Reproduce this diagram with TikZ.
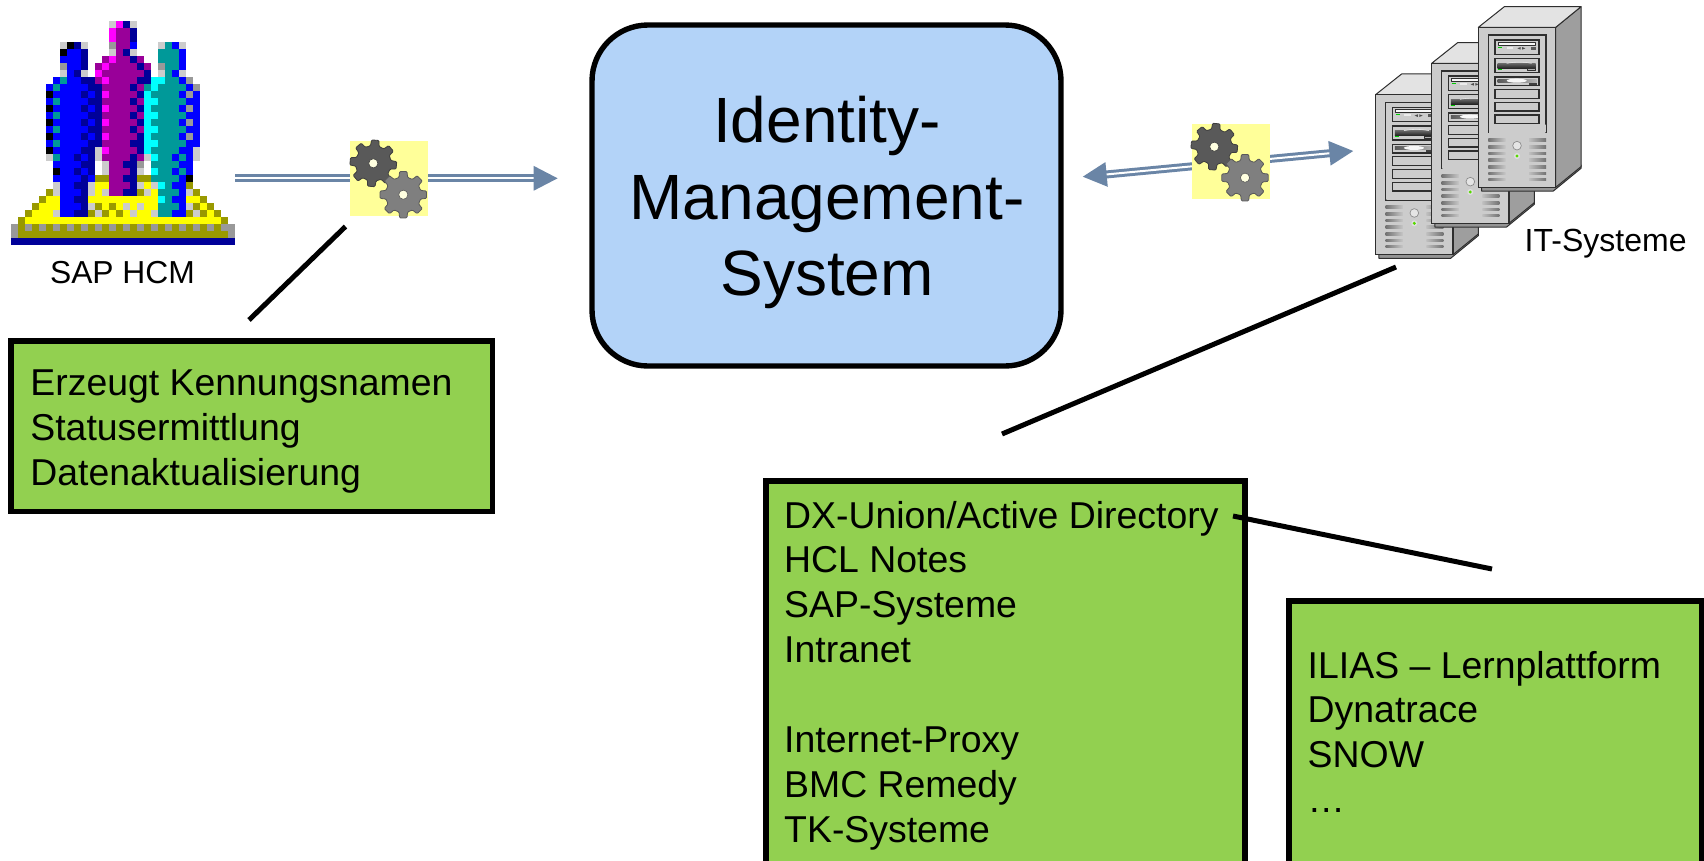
\documentclass[tikz,border=0pt]{standalone}
\usepackage{fontspec}
\setmainfont{Liberation Sans}
\usetikzlibrary{arrows.meta}
\definecolor{pxB}{HTML}{0000FF}\definecolor{pxN}{HTML}{000099}\definecolor{pxP}{HTML}{990099}
\definecolor{pxM}{HTML}{FF00FF}\definecolor{pxT}{HTML}{009999}\definecolor{pxC}{HTML}{00FFFF}
\definecolor{pxY}{HTML}{FFFF00}\definecolor{pxO}{HTML}{999900}\definecolor{pxG}{HTML}{999999}
\definecolor{pxL}{HTML}{CCCCCC}\definecolor{pxK}{HTML}{000000}\definecolor{pxW}{HTML}{FFFFFF}
\definecolor{arrowblue}{HTML}{6A85A6}
\definecolor{boxgreen}{HTML}{92D050}
\definecolor{mainblue}{HTML}{B3D3F8}
\definecolor{gearback}{HTML}{FFFF99}
\definecolor{gearhole}{HTML}{FFFFE0}
\definecolor{geardark}{HTML}{595959}
\definecolor{gearlight}{HTML}{7F7F7F}
\definecolor{srvline}{HTML}{2E2E2E}
\tikzset{
  greenbox/.style={draw=black,fill=boxgreen,line width=5.4pt,rectangle,inner sep=0pt,outer sep=0pt,anchor=north west},
  mainbox/.style={draw=black,fill=mainblue,line width=5.4pt,rectangle,rounded corners=56pt,inner sep=0pt,outer sep=0pt,anchor=north west},
  boxtext/.style={anchor=base west,inner sep=0pt,font=\fontsize{37.4}{44.9}\selectfont},
  smalllabel/.style={anchor=base,inner sep=0pt,font=\fontsize{31.8}{36}\selectfont},
  itstyle/.style={anchor=base west,inner sep=0pt,font=\fontsize{32}{36}\selectfont},
  lead/.style={draw=black,line width=5pt},
  flow/.style={draw=arrowblue,line width=3pt,double=white,double distance=2pt},
  gearsquare/.style={fill=gearback,draw=none,rectangle,inner sep=0pt,outer sep=0pt,minimum width=78pt,minimum height=75pt},
  srv/.style={draw=srvline,line width=1pt,line join=round},
  srvthick/.style={draw=srvline,line width=1.2pt},
}
% pixel icon
\newcount\pxc
\newcount\pxr
\def\pxscan#1{\ifx#1;\let\pxnext\relax\else
  \ifx#1.\else\fill[px#1] (\the\numexpr11+7*\pxc\relax,\the\numexpr21+7*\pxr\relax) rectangle (\the\numexpr18+7*\pxc\relax,\the\numexpr28+7*\pxr\relax);\fi
  \advance\pxc by 1 \let\pxnext\pxscan\fi\pxnext}
\newcommand\pxline[1]{\pxc=0 \pxscan#1;\advance\pxr by 1 }
% gear
\newcommand\gearshape[4]{% cx cy rot colour
  \begin{scope}[shift={(#1,#2)}]
    \draw[fill=#4,draw=#4!70!black,line width=0.8pt,rounded corners=1pt]
      (#3-9:23.5)
      \foreach \k in {0,...,7}{
        -- (#3+45*\k+9:23.5) -- (#3+45*\k+14:17.8) -- (#3+45*\k+31:17.8) -- (#3+45*\k+36:23.5)
      } -- cycle;
    \draw[fill=gearhole,draw=#4!70!black,line width=0.6pt] (0,0) circle (4.6);
  \end{scope}}
% one server tower, coordinates in thirds of a pixel
\newcommand\serverunit[2]{%
  \begin{scope}[shift={(#1,#2)},x=0.33333pt,y=-0.33333pt]
    \filldraw[srv,fill=black!42] (365,560)--(365,573)--(580,573)--(663,505)--(663,495)--(587,555)--cycle;
    \filldraw[srv,fill=black!38] (587,82)--(663,20)--(663,500)--(587,562)--cycle;
    \filldraw[srv,fill=black!11] (355,82)--(433,20)--(663,20)--(587,82)--cycle;
    \filldraw[srvthick,line width=1.4pt,fill=black!20] (355,82) rectangle (587,562);
    \filldraw[srvthick,fill=black!20] (385,105) rectangle (558,398);
    \shade[left color=black!20,middle color=black!5,right color=black!20] (387,374) rectangle (556,396);
    % drive 1
    \filldraw[srvthick,fill=black!20] (405,120) rectangle (537,163);
    \filldraw[srv,fill=black!3] (415,127) rectangle (527,137);
    \draw[green!80!black,line width=0.9pt] (415,142)--(427,142);
    \fill[black!8] (440,141) rectangle (460,147);
    \fill[black!70] (472,145)--(482,141)--(482,149)--cycle (496,145)--(486,141)--(486,149)--cycle;
    \fill[black!65] (512,140) rectangle (527,149);
    % drive 2
    \filldraw[srvthick,fill=black!20] (405,176) rectangle (537,218);
    \shade[top color=black!60,bottom color=black!85] (413,190) rectangle (527,204);
    \draw[black!10,line width=0.6pt] (440,190) .. controls (465,185) and (490,185) .. (515,190);
    \draw[green!80!black,line width=0.9pt] (413,208)--(425,208);
    \filldraw[srv,line width=0.6pt,fill=black!30] (502,206) rectangle (525,212);
    % drive 3
    \filldraw[srvthick,fill=black!20] (405,231) rectangle (537,257);
    \shade[left color=black!65,right color=black!30] (413,238) rectangle (530,248);
    \fill[black!3] (470,242) ellipse (30 and 6);
    \fill[black!75] (507,248) rectangle (530,255);
    % blanks
    \filldraw[srvthick,fill=black!20] (405,268) rectangle (537,295);
    \filldraw[srvthick,fill=black!20] (405,307) rectangle (537,333);
    \filldraw[srvthick,fill=black!20] (405,345) rectangle (537,371);
    % vents
    \foreach \vy in {420,440,460,480,500,520,538}{
      \shade[left color=black!55,right color=black!22] (385,\vy-4) rectangle (437,\vy+4);
      \shade[left color=black!25,right color=black!55] (507,\vy-4) rectangle (558,\vy+4);
    }
    \filldraw[draw=black!45,fill=black!10,line width=0.7pt] (471,437) circle (13);
    \fill[black!12] (471,468) circle (9);
    \fill[green!60!yellow!85!black] (471,468) circle (5);
  \end{scope}}
\begin{document}
\begin{tikzpicture}[x=1pt,y=-1pt]
\useasboundingbox (0,0) rectangle (1704,860);
\fill[white] (0,0) rectangle (1704,860);
% SAP HCM icon
\pxr=0
\pxline{..............LMNL..............}
\pxline{..............MPPN..............}
\pxline{..............MPPN..............}
\pxline{.......LKNL...GPPB...LTBL.......}
\pxline{.......KBBN...LPNL...TTTB.......}
\pxline{.......BBBN..PMPPNP..TTTB.......}
\pxline{.......GBBN.PMPPPPNP.GTTB.......}
\pxline{.......LBNL.MPPPPPPN.LTBL.......}
\pxline{......BTBBNNPMPPPPNNCCTTBG......}
\pxline{.....BTBBBBNNPPPPNPTCTTTTBG.....}
\pxline{.....KBBBBNBNMPPPPNCTTTTBGB.....}
\pxline{.....BTBBBBNNPPPPNPCCTTTTBB.....}
\pxline{.....KBBBBNBNMPPPPNCTTTTBGB.....}
\pxline{.....BTBBBBNNPPPPNPCCTTTTBB.....}
\pxline{.....KBBBBNBNMPPPPNCTTTTBGB.....}
\pxline{.....BTBBBBNNPPPPNPCCTTTTBB.....}
\pxline{.....KBBBBNBNMPPPPNCTTTTBGB.....}
\pxline{.....BTBBBBNNPPPPNNCCTTTTBB.....}
\pxline{.....KBBBBNNLMPPPPNCTTTTBBL.....}
\pxline{.....LTBBNBNLPPPPNPLCTTBTBL.....}
\pxline{......BBBBNNWLPPNNGWTTTTBB......}
\pxline{......KBBNBNWLPPPNLWCTTBTB......}
\pxline{......BBBBNBOOPPNNOOTTTTBK......}
\pxline{......LBBNNLYYPPPNLYLCTBBO......}
\pxline{.....OLBBBNLYLPPNNOLYTTTBLO.....}
\pxline{....OYYBBNNYYYYYYYYYYCTBBYYO....}
\pxline{...OYYYBBBNLOYOYLYLYYTTTBLOYO...}
\pxline{..OYYYLBBNNOLOYOYLYYLTTBBOLOYO..}
\pxline{.OYYYYYYYYYYYYYYYYYYYYYYYYYYYYO.}
\pxline{GOGOGOGOGOGOGOGOGOGOGOGOGOGOGOGG}
\pxline{GOOOOOOOOOOOOOOOOOOOOOOOOOOOOOOG}
\pxline{NNNNNNNNNNNNNNNNNNNNNNNNNNNNNNNN}
\node[smalllabel] (saplabel) at (122.5,283) {SAP HCM};

% main box
\node[mainbox,minimum width=469pt,minimum height=341pt] (main) at (592,25) {};
\node[anchor=center,inner sep=0pt,align=center,font=\fontsize{64}{76.5}\selectfont] (mainlabel) at (827,202.8) {Identity-\\Management-\\System};

% flows
\coordinate (flowLa) at (235,178.3);
\coordinate (flowLb) at (557.7,178.3);
\coordinate (flowRa) at (1082.7,176.7);
\coordinate (flowRb) at (1353.3,151);
\draw[flow,-{Triangle[length=24pt,width=24pt]}] (flowLa) -- (flowLb);
\draw[flow,{Triangle[length=24pt,width=24pt]}-{Triangle[length=24pt,width=24pt]}] (flowRa) -- (flowRb);

% gear squares
\node[gearsquare,anchor=north west] (gearsL) at (350,141) {};
\gearshape{373.3}{163.3}{95}{geardark}
\gearshape{403.3}{194.7}{90}{gearlight}
\node[gearsquare,anchor=north west] (gearsR) at (1192,124) {};
\gearshape{1214.3}{146.7}{95}{geardark}
\gearshape{1245}{177.7}{90}{gearlight}

% servers
\serverunit{1257.3}{67.3}
\serverunit{1313.3}{36}
\serverunit{1360}{0}
\node[itstyle] (itlabel) at (1524.5,251.7) {IT-Systeme};

% green boxes
\node[greenbox,minimum width=481.5pt,minimum height=170.7pt] (boxA) at (11,341) {};
\node[boxtext] (boxAtext) at (30.2,395.5) {\vtop{\hbox{Erzeugt Kennungsnamen}\hbox{Statusermittlung}\hbox{Datenaktualisierung}}};
\node[greenbox,minimum width=479pt,minimum height=384pt] (boxB) at (766,481) {};
\node[boxtext] (boxBtext) at (784,528) {\vtop{\hbox{DX-Union/Active Directory}\hbox{HCL Notes}\hbox{SAP-Systeme}\hbox{Intranet}\hbox{}\hbox{Internet-Proxy}\hbox{BMC Remedy}\hbox{TK-Systeme}}};
\node[greenbox,minimum width=413pt,minimum height=264pt] (boxC) at (1289,601) {};
\node[boxtext] (boxCtext) at (1307.5,678) {\vtop{\hbox{ILIAS – Lernplattform}\hbox{Dynatrace}\hbox{SNOW}\hbox{…}}};

% leader lines
\coordinate (leadAa) at (345.5,226.5);
\coordinate (leadAb) at (249,320);
\coordinate (leadBa) at (1396,267);
\coordinate (leadBb) at (1002,434);
\coordinate (leadCa) at (1233,516);
\coordinate (leadCb) at (1492,569);
\draw[lead] (leadAa) -- (leadAb);
\draw[lead] (leadBa) -- (leadBb);
\draw[lead] (leadCa) -- (leadCb);
\end{tikzpicture}
\end{document}
